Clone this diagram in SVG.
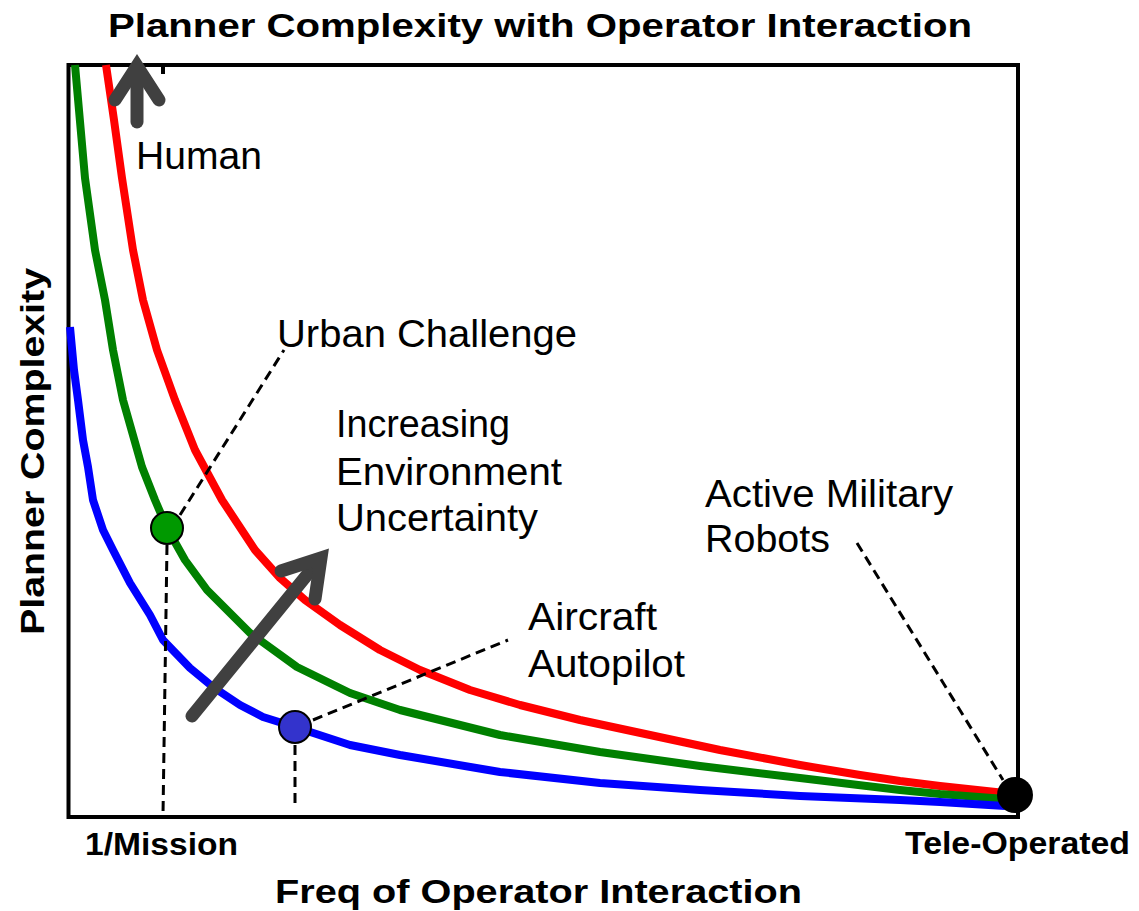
<svg xmlns="http://www.w3.org/2000/svg" width="1139" height="911" viewBox="0 0 1139 911">
<style>
.lbl{font-family:"Liberation Sans",Arial,sans-serif;font-size:38px;fill:#000}
.bold{font-family:"Liberation Sans",Arial,sans-serif;font-weight:bold;fill:#000}
.curve{fill:none;stroke-width:8;stroke-linejoin:round;stroke-linecap:butt}
.dash{fill:none;stroke:#000;stroke-width:3;stroke-dasharray:10 6}
.garrow{fill:none;stroke:#404040;stroke-width:13;stroke-linecap:round;stroke-linejoin:miter;stroke-miterlimit:10}
.dot{stroke:#000;stroke-width:2}
</style>
<rect width="1139" height="911" fill="#fff"/>
<g id="frame">
<rect x="68.5" y="65" width="949.5" height="752" fill="none" stroke="#000" stroke-width="4"/>
<line x1="163" y1="65" x2="163" y2="74" stroke="#000" stroke-width="4"/>
</g>
<g id="curves">
<path id="red-curve" class="curve" stroke="#ff0000" d="M106,65 L114,120 L122,178 L133,250 L143,300 L157,350 L175,400 L195,450 L222,500 L255,550 L280,578 L305,600 L340,625 L380,650 L420,670 L470,690 L520,705 L580,720 L650,735 L720,750 L800,765 L860,775 L900,781 L940,786 L1005,793"/>
<path id="green-curve" class="curve" stroke="#008000" d="M75,65 L85,178 L95,250 L105,300 L113,350 L123,400 L142,467 L155,500 L167,528 L185,560 L207,590 L250,633 L297,667 L350,693 L400,710 L500,735 L600,752 L700,766 L800,778 L900,790 L940,794 L1005,799"/>
<path id="blue-curve" class="curve" stroke="#0000ff" d="M70,327 L74,370 L78,400 L83,440 L88,467 L93,500 L103,530 L113,550 L130,583 L150,615 L163,640 L190,668 L213,687 L240,705 L263,717 L295,727 L350,745 L400,755 L500,772 L600,783 L700,790 L800,796 L900,800 L940,802 L1005,806"/>
</g>
<g id="connectors">
<line class="dash" x1="180" y1="515" x2="284" y2="350"/>
<line class="dash" x1="167" y1="545" x2="163" y2="815"/>
<line class="dash" x1="295" y1="745" x2="295" y2="808"/>
<line class="dash" x1="313" y1="720" x2="508" y2="640"/>
<line class="dash" x1="857" y1="543" x2="1003" y2="780"/>
</g>
<g id="human-arrow">
<polyline class="garrow" points="115,100 137,66 159,100"/>
<line class="garrow" x1="137" y1="68" x2="137" y2="122"/>
</g>
<g id="uncertainty-arrow">
<line class="garrow" x1="192" y1="716" x2="320" y2="559"/>
<polyline class="garrow" points="281,571 321,558 315,599"/>
</g>
<g id="urban-challenge">
<circle class="dot" cx="167" cy="528" r="16" fill="#009900"/>
<text class="lbl" x="277" y="347" textLength="300" lengthAdjust="spacingAndGlyphs">Urban Challenge</text>
</g>
<g id="aircraft-autopilot">
<circle class="dot" cx="295" cy="727" r="16" fill="#3333cc"/>
<text class="lbl" x="528" y="630" textLength="129" lengthAdjust="spacingAndGlyphs">Aircraft</text>
<text class="lbl" x="528" y="677" textLength="157" lengthAdjust="spacingAndGlyphs">Autopilot</text>
</g>
<g id="active-military-robots">
<circle cx="1015" cy="795" r="18" fill="#000"/>
<text class="lbl" x="705" y="507" textLength="248" lengthAdjust="spacingAndGlyphs">Active Military</text>
<text class="lbl" x="705" y="552" textLength="125" lengthAdjust="spacingAndGlyphs">Robots</text>
</g>
<g id="labels">
<text class="bold" x="108" y="37" font-size="34" textLength="864" lengthAdjust="spacingAndGlyphs">Planner Complexity with Operator Interaction</text>
<text class="lbl" x="136" y="169" textLength="126" lengthAdjust="spacingAndGlyphs">Human</text>
<text class="lbl" x="336" y="437" textLength="174" lengthAdjust="spacingAndGlyphs">Increasing</text>
<text class="lbl" x="336" y="485" textLength="226" lengthAdjust="spacingAndGlyphs">Environment</text>
<text class="lbl" x="336" y="531" textLength="202" lengthAdjust="spacingAndGlyphs">Uncertainty</text>
<text class="bold" x="85" y="855" font-size="31" textLength="153" lengthAdjust="spacingAndGlyphs">1/Mission</text>
<text class="bold" x="905" y="854" font-size="31" textLength="225" lengthAdjust="spacingAndGlyphs">Tele-Operated</text>
<text class="bold" x="275" y="903" font-size="34" textLength="527" lengthAdjust="spacingAndGlyphs">Freq of Operator Interaction</text>
<text class="bold" transform="translate(44,635) rotate(-90)" font-size="34" textLength="367" lengthAdjust="spacingAndGlyphs">Planner Complexity</text>
</g>
</svg>
